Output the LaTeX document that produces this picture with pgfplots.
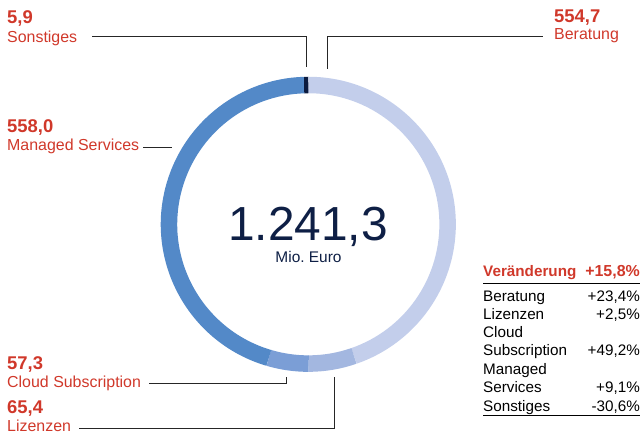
\documentclass[border=0pt]{standalone}
\usepackage{pgfplots}
\pgfplotsset{compat=1.18}
\usepackage{pgfplotstable}
\usepackage{fontspec}
\setmainfont{Liberation Sans}

\definecolor{seg0}{HTML}{C3CEEB}% Beratung
\definecolor{seg1}{HTML}{A3B7E0}% Lizenzen
\definecolor{seg2}{HTML}{7B9ED6}% Cloud Subscription
\definecolor{seg3}{HTML}{5389C8}% Managed Services
\definecolor{seg4}{HTML}{0B1B3F}% Sonstiges
\definecolor{lblred}{HTML}{D0382A}
\definecolor{navy}{HTML}{0E1F45}

% Umsatz nach Segment, Mio. Euro (im Uhrzeigersinn ab 12 Uhr)
\pgfplotstableread{
segment value
Beratung 554.7
Lizenzen 65.4
Cloud 57.3
Managed 558.0
Sonstiges 5.9
}\donutdata

% Winkel aus den Werten berechnen
\pgfmathsetmacro\total{0}
\pgfplotsforeachungrouped \i in {0,...,4}{%
  \pgfplotstablegetelem{\i}{value}\of\donutdata
  \pgfmathsetmacro\total{\total+\pgfplotsretval}}
\pgfmathsetmacro\cum{90}
\gdef\donutcmds{}
\pgfplotsforeachungrouped \i in {0,...,4}{%
  \pgfplotstablegetelem{\i}{value}\of\donutdata
  \pgfmathsetmacro\nxt{\cum-\pgfplotsretval/\total*360}%
  \xdef\donutcmds{\unexpanded\expandafter{\donutcmds}%
    \noexpand\draw[seg\i, line width=16.5bp]
      (axis cs:308.3,210.7) ++(\cum:139.3bp)
      arc[start angle=\cum, end angle=\nxt, radius=139.3bp];}%
  \global\let\cum\nxt}

\begin{document}
\begin{tikzpicture}[
  val/.style={anchor=base west, inner sep=0, text=lblred, font=\bfseries\fontsize{18.5}{21}\selectfont},
  lbl/.style={anchor=base west, inner sep=0, text=lblred, font=\fontsize{16}{19}\selectfont},
  lead/.style={draw=black!85, line width=0.8bp},
  tl/.style={anchor=base west, inner sep=0, font=\fontsize{15.3}{18}\selectfont},
  tr/.style={anchor=base east, inner sep=0, font=\fontsize{15.3}{18}\selectfont},
]
\begin{axis}[
  width=643bp, height=435bp, scale only axis,
  xmin=0, xmax=643, ymin=0, ymax=435,
  hide axis, clip=false,
]
\path (rel axis cs:0,0) rectangle (rel axis cs:1,1);
\pgfplotsextra{\donutcmds}

% Mitte
\node[anchor=base, inner sep=0, text=navy, font=\fontsize{48}{54}\selectfont] at (axis cs:308,194) {1.241,3};
\node[anchor=base, inner sep=0, text=navy, font=\fontsize{15.5}{18}\selectfont] at (axis cs:308.5,172.7) {Mio.~Euro};

% Beschriftungen
\draw[lead] (axis cs:92,399) -- (axis cs:306,399) -- (axis cs:306,368);
\node[val] at (axis cs:7,411) {5,9};
\node[lbl] at (axis cs:7,392.5) {Sonstiges};

\draw[lead] (axis cs:327,366) -- (axis cs:327,399) -- (axis cs:543,399);
\node[val] at (axis cs:554,412.3) {554,7};
\node[lbl] at (axis cs:554,395.3) {Beratung};

\draw[lead] (axis cs:143,288) -- (axis cs:172,288);
\node[val] at (axis cs:7,302) {558,0};
\node[lbl] at (axis cs:7,284) {Managed Services};

\draw[lead] (axis cs:149,52) -- (axis cs:286,52) -- (axis cs:286,58);
\node[val] at (axis cs:7,65.7) {57,3};
\node[lbl] at (axis cs:7,47.3) {Cloud Subscription};

\draw[lead] (axis cs:79,7) -- (axis cs:334,7) -- (axis cs:334,58);
\node[val] at (axis cs:7,21.7) {65,4};
\node[lbl] at (axis cs:7,4) {Lizenzen};

% Tabelle Veränderung
\node[anchor=base west, inner sep=0, text=lblred, font=\bfseries\fontsize{15.3}{18}\selectfont] at (axis cs:483,158.3) {Veränderung};
\node[anchor=base east, inner sep=0, text=lblred, font=\bfseries\fontsize{16}{18}\selectfont] at (axis cs:640,158.3) {+15,8\%};
\draw[black, line width=1bp] (axis cs:483,151.7) -- (axis cs:640,151.7);
\node[tl] at (axis cs:483,133.3) {Beratung};      \node[tr] at (axis cs:640,133.3) {+23,4\%};
\node[tl] at (axis cs:483,115) {Lizenzen};        \node[tr] at (axis cs:640,115) {+2,5\%};
\node[tl] at (axis cs:483,97.3) {Cloud};
\node[tl] at (axis cs:483,79) {Subscription};     \node[tr] at (axis cs:640,79) {+49,2\%};
\node[tl] at (axis cs:483,60.7) {Managed};
\node[tl] at (axis cs:483,42.3) {Services};       \node[tr] at (axis cs:640,42.3) {+9,1\%};
\node[tl] at (axis cs:483,24) {Sonstiges};        \node[tr] at (axis cs:640,24) {-30,6\%};
\draw[black, line width=1bp] (axis cs:483,19) -- (axis cs:640,19);
\end{axis}
\end{tikzpicture}
\end{document}
